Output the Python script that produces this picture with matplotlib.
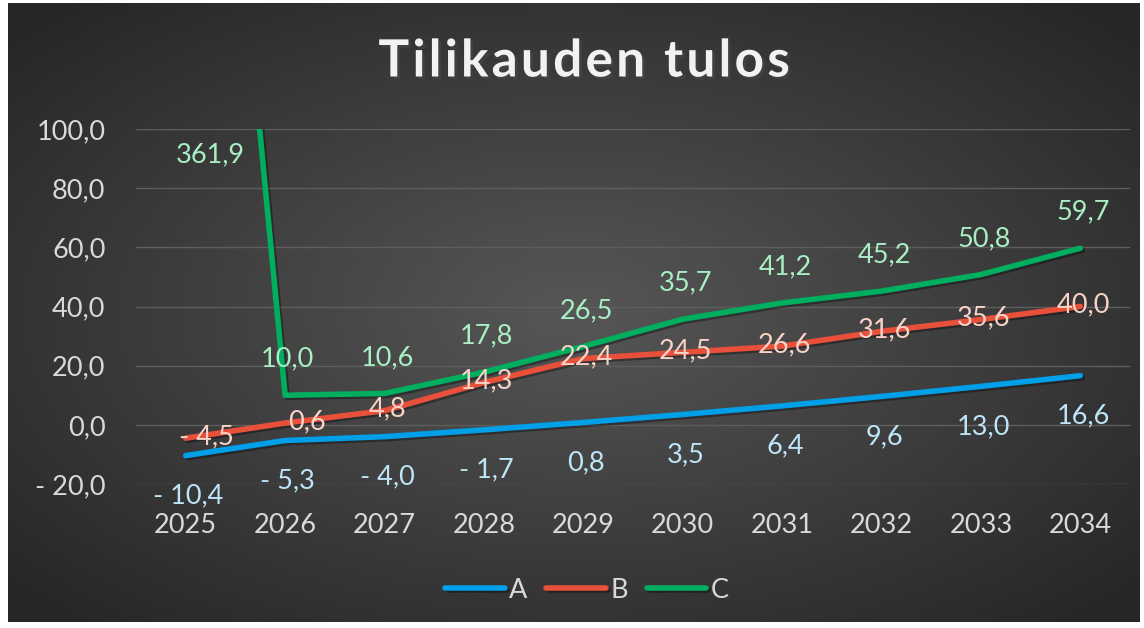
import numpy as np
import matplotlib.pyplot as plt
import matplotlib.patheffects as pe
from matplotlib.ticker import FuncFormatter

# data
years = ["2025", "2026", "2027", "2028", "2029", "2030", "2031", "2032", "2033", "2034"]
a_vals = [-10.4, -5.3, -4.0, -1.7, 0.8, 3.5, 6.4, 9.6, 13.0, 16.6]
b_vals = [-4.5, 0.6, 4.8, 14.3, 22.4, 24.5, 26.6, 31.6, 35.6, 40.0]
c_vals = [361.9, 10.0, 10.6, 17.8, 26.5, 35.7, 41.2, 45.2, 50.8, 59.7]
series_names = ["A", "B", "C"]
title = "Tilikauden tulos"

FONT = ["Lato", "DejaVu Sans"]
plt.rcParams['font.family'] = FONT
FS = 19.5


def fmt(v):
    s = f"{abs(v):.1f}".replace(".", ",")
    return "- " + s if v < 0 else s


W, H = 1144, 628
fig = plt.figure(figsize=(W / 100, H / 100), dpi=100, facecolor="white")

# dark gradient background
bg = fig.add_axes([8 / W, 6 / H, 1132 / W, 619 / H])
gx, gy = np.meshgrid(np.linspace(-1, 1, 400), np.linspace(-1, 1, 220))
r = np.clip(np.sqrt(gx ** 2 + gy ** 2) / 1.35, 0, 1)
shade = 0.34 - 0.19 * r
bg.imshow(np.dstack([shade] * 3), aspect="auto", extent=[0, 1, 0, 1])
bg.set_axis_off()

ax = fig.add_axes([136 / W, (H - 484) / H, 994 / W, 355 / H])
ax.set_facecolor("none")
x = np.arange(len(years))

colors = ["#009FE8", "#E8503A", "#00AE5F"]
label_colors = ["#BDE5F8", "#FAD3C8", "#A9EFC3"]
shadow = [pe.SimpleLineShadow(offset=(1.5, -1.5), alpha=0.35), pe.Normal()]

for vals, name, col in zip([a_vals, b_vals, c_vals], series_names, colors):
    ax.plot(x, vals, color=col, lw=4, solid_capstyle="round",
            solid_joinstyle="round", label=name, path_effects=shadow, zorder=3)

ax.set_xlim(-0.5, len(years) - 0.5)
ax.set_ylim(-20, 100)
ax.set_yticks(np.arange(-20, 101, 20))
ax.yaxis.set_major_formatter(FuncFormatter(lambda v, p: fmt(v)))
ax.set_xticks(x)
ax.set_xticklabels(years)
ax.grid(axis="y", color="#5E5E5E", lw=1)
ax.set_axisbelow(True)
ax.tick_params(length=0, colors="#D9D9D9", labelsize=FS)
ax.tick_params(axis="y", pad=22)
ax.tick_params(axis="x", pad=21)
for s in ax.spines.values():
    s.set_visible(False)

# data labels
for i, v in enumerate(a_vals):
    ax.annotate(fmt(v), (i, v), xytext=(2, -29), textcoords="offset points",
                ha="center", va="center", fontsize=FS, color=label_colors[0])

b_nudge = [15, 16, 2, 2, 2, 2, 2, 2, 2, 2]
for i, v in enumerate(b_vals):
    ax.annotate(fmt(v), (i, v), xytext=(b_nudge[i], 1), textcoords="offset points",
                ha="center", va="center", fontsize=FS, color=label_colors[1], zorder=4)

for i, v in enumerate(c_vals):
    if v > 100:
        ax.annotate(fmt(v), (0.25, 91.2), ha="center", va="center", fontsize=FS,
                    color=label_colors[2])
    else:
        ax.annotate(fmt(v), (i, v), xytext=(2, 26), textcoords="offset points",
                    ha="center", va="center", fontsize=FS, color=label_colors[2])

# title with a little letter spacing
spaced = "\u200a".join(title)
fig.text(0.511, (H - 62) / H, spaced, ha="center", va="center",
         fontsize=37, fontweight="bold", color="#F2F2F2",
         path_effects=[pe.withSimplePatchShadow(offset=(2, -2), alpha=0.5)])

leg = fig.legend(loc="center", bbox_to_anchor=(0.513, (H - 590) / H), ncol=3,
                 frameon=False, fontsize=FS, handlelength=2.2, handletextpad=0.15,
                 columnspacing=0.7, labelcolor="#D9D9D9")
for h in leg.legend_handles:
    h.set_solid_capstyle("round")

fig.savefig("out.png", dpi=100, facecolor="white")
